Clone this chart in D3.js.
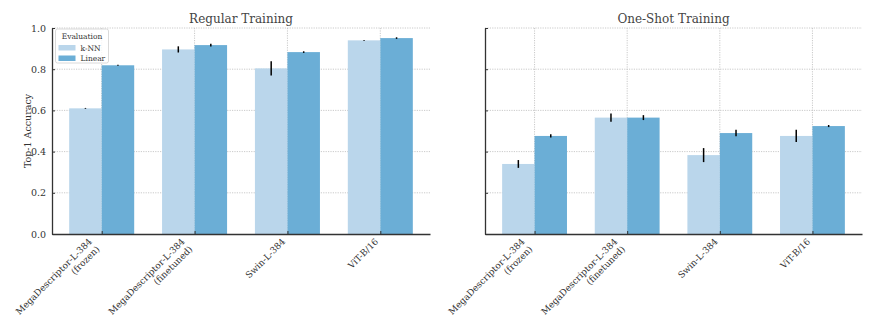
<!DOCTYPE html>
<html>
<head>
<meta charset="utf-8">
<script src="https://cdn.jsdelivr.net/npm/d3@7"></script>
<style>
  html, body { margin: 0; padding: 0; background: #fff; }
  svg { display: block; font-family: "DejaVu Serif", serif; }
</style>
</head>
<body>
<svg id="chart" width="879" height="330"></svg>
<script>
// Models compared (line breaks split the tick label)
const categories = ["MegaDescriptor-L-384\n(frozen)", "MegaDescriptor-L-384\n(finetuned)", "Swin-L-384", "ViT-B/16"];
const evaluations = ["k-NN", "Linear"];
const panelTitles = ["Regular Training", "One-Shot Training"];
const yTicks = [0.0, 0.2, 0.4, 0.6, 0.8, 1.0];

// Regular training: mean top-1 accuracy and error
const regularKnn = [0.610, 0.896, 0.804, 0.940];
const regularKnnErr = [0.002, 0.015, 0.034, 0.002];
const regularLinear = [0.819, 0.917, 0.883, 0.951];
const regularLinearErr = [0.002, 0.007, 0.004, 0.004];

// One-shot training: mean top-1 accuracy and error
const oneShotKnn = [0.340, 0.565, 0.383, 0.476];
const oneShotKnnErr = [0.019, 0.020, 0.034, 0.030];
const oneShotLinear = [0.476, 0.565, 0.490, 0.524];
const oneShotLinearErr = [0.008, 0.012, 0.016, 0.005];

const colors = ["#bad6eb", "#6baed6"];
const barWidth = 0.35;
const textColor = "#333";

const panels = [
  { title: panelTitles[0], x0: 52, x1: 430, series: [[regularKnn, regularKnnErr], [regularLinear, regularLinearErr]], yLabels: true, legend: true },
  { title: panelTitles[1], x0: 485, x1: 862, series: [[oneShotKnn, oneShotKnnErr], [oneShotLinear, oneShotLinearErr]], yLabels: false, legend: false }
];

const yTop = 28, yBottom = 234;
const svg = d3.select("#chart");
const y = d3.scaleLinear().domain([0, 1]).range([yBottom, yTop]);

panels.forEach(p => {
  const g = svg.append("g");
  const x = d3.scaleLinear().domain([-0.535, categories.length - 1 + 0.535]).range([p.x0, p.x1]);

  // grid
  const grid = g.append("g").attr("stroke", "#bdbdbd").attr("stroke-width", 0.8).attr("stroke-dasharray", "1.2,1.2");
  yTicks.filter(t => t > 0).forEach(t => {
    grid.append("line").attr("x1", p.x0).attr("x2", p.x1).attr("y1", y(t)).attr("y2", y(t));
  });
  categories.forEach((c, i) => {
    grid.append("line").attr("x1", x(i)).attr("x2", x(i)).attr("y1", yTop).attr("y2", yBottom);
  });

  // bars
  p.series.forEach(([vals, errs], s) => {
    const off = (s === 0 ? -0.5 : 0.5) * barWidth;
    g.append("g").selectAll("rect").data(vals).join("rect")
      .attr("x", (d, i) => x(i + off - barWidth / 2))
      .attr("width", (d, i) => x(i + off + barWidth / 2) - x(i + off - barWidth / 2))
      .attr("y", d => y(d))
      .attr("height", d => y(0) - y(d))
      .attr("fill", colors[s]);
  });
  // error bars
  p.series.forEach(([vals, errs], s) => {
    const off = (s === 0 ? -0.5 : 0.5) * barWidth;
    g.append("g").selectAll("line").data(vals).join("line")
      .attr("x1", (d, i) => x(i + off)).attr("x2", (d, i) => x(i + off))
      .attr("y1", (d, i) => y(d - errs[i])).attr("y2", (d, i) => y(d + errs[i]))
      .attr("stroke", "#000").attr("stroke-width", 1.5);
  });

  // y axis
  const yAxis = d3.axisLeft(y).tickValues(yTicks).tickSizeInner(-3).tickSizeOuter(0).tickPadding(6)
    .tickFormat(p.yLabels ? d3.format(".1f") : () => "");
  const ya = g.append("g").attr("transform", `translate(${p.x0},0)`).call(yAxis);
  ya.select(".domain").attr("stroke", "#333").attr("stroke-width", 1.3);
  ya.selectAll(".tick line").attr("stroke", "#333").attr("stroke-width", 1);
  ya.selectAll(".tick text").attr("fill", textColor).style("font-family", "DejaVu Serif").style("font-size", "9.5px");

  // x axis
  const xAxis = d3.axisBottom(x).tickValues(d3.range(categories.length)).tickSizeInner(-3).tickSizeOuter(0).tickFormat(() => "");
  const xa = g.append("g").attr("transform", `translate(0,${yBottom})`).call(xAxis);
  xa.select(".domain").attr("stroke", "#333").attr("stroke-width", 1.3);
  xa.selectAll(".tick line").attr("stroke", "#333").attr("stroke-width", 1);

  // rotated tick labels, right-aligned to the tick
  const fs = 9, lh = 1.2 * fs, k = Math.SQRT1_2;
  categories.forEach((c, i) => {
    const lines = c.split("\n");
    const n = lines.length;
    const bx = x(i) - 0.24 * fs * k - (n - 1) * lh * k;
    const by = yBottom + 3.5 + 0.73 * fs * k;
    const t = g.append("text")
      .attr("transform", `translate(${bx},${by}) rotate(-45)`)
      .attr("text-anchor", "end")
      .attr("fill", textColor)
      .style("font-size", fs + "px");
    lines.forEach((ln, j) => {
      t.append("tspan").attr("x", 0).attr("dy", j === 0 ? 0 : lh).text(ln);
    });
  });

  // title
  g.append("text").attr("x", (p.x0 + p.x1) / 2).attr("y", 23)
    .attr("text-anchor", "middle").attr("fill", "#444").style("font-size", "12px").text(p.title);

  if (p.yLabels) {
    g.append("text").attr("transform", `translate(31,${(yTop + yBottom) / 2}) rotate(-90)`)
      .attr("text-anchor", "middle").attr("fill", textColor).style("font-size", "9.5px").text("Top-1 Accuracy");
  }

  if (p.legend) {
    const lg = g.append("g").attr("transform", `translate(${p.x0 + 3.5},29)`);
    lg.append("rect").attr("width", 53).attr("height", 34).attr("rx", 2)
      .attr("fill", "#fff").attr("fill-opacity", 0.8).attr("stroke", "#d0d0d0").attr("stroke-width", 0.8);
    lg.append("text").attr("x", 26.5).attr("y", 10).attr("text-anchor", "middle")
      .attr("fill", textColor).style("font-size", "7.5px").text("Evaluation");
    evaluations.forEach((e, j) => {
      lg.append("rect").attr("x", 3).attr("y", 16 + j * 10.5).attr("width", 17).attr("height", 5.5).attr("fill", colors[j]);
      lg.append("text").attr("x", 25).attr("y", 21.5 + j * 10.5).attr("fill", textColor)
        .style("font-size", "7.5px").text(e);
    });
  }
});
</script>
</body>
</html>
